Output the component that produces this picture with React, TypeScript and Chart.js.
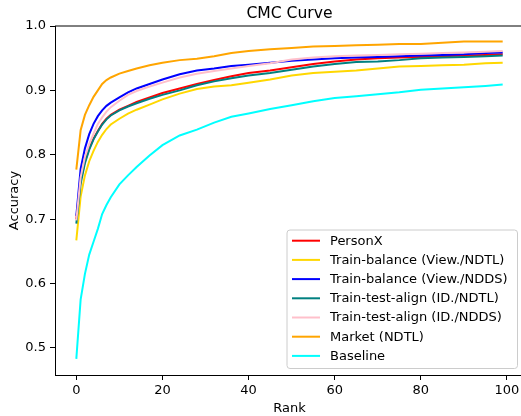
import React, { useEffect, useRef } from "react";
import { Chart, registerables } from "chart.js";

Chart.register(...registerables);

// ---- data ----
const ranks = [0, 1, 2, 3, 4, 5, 6, 7, 8, 10, 12, 14, 17, 20, 24, 28, 32, 36, 40, 45, 50, 55, 60, 65, 70, 75, 80, 85, 90, 95, 99];

const personX = [0.700, 0.760, 0.790, 0.810, 0.825, 0.837, 0.848, 0.856, 0.862, 0.870, 0.876, 0.882, 0.889, 0.896, 0.903, 0.910, 0.916, 0.922, 0.927, 0.931, 0.936, 0.941, 0.945, 0.948, 0.950, 0.951, 0.952, 0.953, 0.954, 0.955, 0.956];
const balanceNDTL = [0.667, 0.735, 0.768, 0.790, 0.806, 0.820, 0.831, 0.840, 0.847, 0.856, 0.864, 0.870, 0.878, 0.886, 0.895, 0.902, 0.906, 0.908, 0.912, 0.917, 0.923, 0.927, 0.929, 0.931, 0.934, 0.937, 0.938, 0.939, 0.940, 0.942, 0.943];
const balanceNDDS = [0.705, 0.778, 0.810, 0.832, 0.848, 0.860, 0.869, 0.876, 0.881, 0.889, 0.897, 0.903, 0.910, 0.917, 0.925, 0.931, 0.934, 0.938, 0.940, 0.943, 0.946, 0.948, 0.950, 0.951, 0.952, 0.953, 0.954, 0.955, 0.956, 0.958, 0.959];
const alignNDTL = [0.693, 0.755, 0.787, 0.808, 0.824, 0.836, 0.847, 0.855, 0.861, 0.869, 0.875, 0.880, 0.887, 0.893, 0.900, 0.908, 0.914, 0.919, 0.923, 0.927, 0.932, 0.937, 0.941, 0.944, 0.945, 0.947, 0.950, 0.951, 0.952, 0.953, 0.954];
const alignNDDS = [0.698, 0.765, 0.797, 0.817, 0.833, 0.848, 0.858, 0.867, 0.874, 0.884, 0.893, 0.899, 0.906, 0.912, 0.920, 0.926, 0.930, 0.934, 0.938, 0.942, 0.948, 0.951, 0.953, 0.954, 0.955, 0.956, 0.957, 0.958, 0.959, 0.960, 0.961];
const marketNDTL = [0.777, 0.838, 0.862, 0.877, 0.890, 0.900, 0.910, 0.916, 0.920, 0.926, 0.930, 0.934, 0.939, 0.943, 0.947, 0.949, 0.953, 0.958, 0.961, 0.964, 0.966, 0.968, 0.969, 0.970, 0.971, 0.972, 0.972, 0.974, 0.976, 0.976, 0.976];
const baseline = [0.483, 0.575, 0.615, 0.645, 0.665, 0.685, 0.708, 0.722, 0.734, 0.754, 0.768, 0.781, 0.799, 0.815, 0.830, 0.839, 0.850, 0.859, 0.864, 0.871, 0.877, 0.883, 0.888, 0.891, 0.894, 0.897, 0.901, 0.903, 0.905, 0.907, 0.909];

const seriesLabels = [
  "PersonX",
  "Train-balance (View./NDTL)",
  "Train-balance (View./NDDS)",
  "Train-test-align (ID./NDTL)",
  "Train-test-align (ID./NDDS)",
  "Market (NDTL)",
  "Baseline",
];
const seriesValues = [personX, balanceNDTL, balanceNDDS, alignNDTL, alignNDDS, marketNDTL, baseline];

const xTickValues = [0, 20, 40, 60, 80, 100];
const yTickValues = [0.5, 0.6, 0.7, 0.8, 0.9, 1.0];

const titleText = "CMC Curve";
const xLabel = "Rank";
const yLabel = "Accuracy";

// ---- styles ----
const colors = ["#ff0000", "#ffd700", "#0000ff", "#008080", "#ffc0cb", "#ffa500", "#00ffff"];
const FONT = '"DejaVu Sans", sans-serif';
const CANVAS_W = 540;
const CANVAS_H = 416;

const decorPlugin = {
  id: "decor",
  afterDraw(chart: any) {
    const ctx = chart.ctx as CanvasRenderingContext2D;
    const a = chart.chartArea;
    ctx.save();
    // top spine
    ctx.strokeStyle = "#000";
    ctx.lineWidth = 1;
    ctx.beginPath();
    ctx.moveTo(a.left, a.top);
    ctx.lineTo(a.right, a.top);
    ctx.stroke();

    const cx = (a.left + a.right) / 2;
    ctx.fillStyle = "#000";
    ctx.textAlign = "center";
    ctx.textBaseline = "alphabetic";
    ctx.font = `15.6px ${FONT}`;
    ctx.fillText(titleText, cx, 18);
    ctx.font = `13px ${FONT}`;
    ctx.fillText(xLabel, cx, 412);
    ctx.save();
    ctx.translate(18, (a.top + a.bottom) / 2);
    ctx.rotate(-Math.PI / 2);
    ctx.fillText(yLabel, 0, 0);
    ctx.restore();

    // legend
    const x0 = 287, x1 = 517.5, y0 = 230, y1 = 368.5, r = 3;
    ctx.beginPath();
    ctx.moveTo(x0 + r, y0);
    ctx.lineTo(x1 - r, y0);
    ctx.quadraticCurveTo(x1, y0, x1, y0 + r);
    ctx.lineTo(x1, y1 - r);
    ctx.quadraticCurveTo(x1, y1, x1 - r, y1);
    ctx.lineTo(x0 + r, y1);
    ctx.quadraticCurveTo(x0, y1, x0, y1 - r);
    ctx.lineTo(x0, y0 + r);
    ctx.quadraticCurveTo(x0, y0, x0 + r, y0);
    ctx.closePath();
    ctx.fillStyle = "rgba(255,255,255,0.8)";
    ctx.fill();
    ctx.strokeStyle = "rgb(204,204,204)";
    ctx.lineWidth = 1;
    ctx.stroke();

    ctx.textAlign = "left";
    ctx.textBaseline = "middle";
    ctx.font = `13px ${FONT}`;
    chart.data.datasets.forEach((ds: any, i: number) => {
      const y = 240.7 + i * 19.2;
      ctx.strokeStyle = ds.borderColor;
      ctx.lineWidth = 2;
      ctx.beginPath();
      ctx.moveTo(292, y);
      ctx.lineTo(320, y);
      ctx.stroke();
      ctx.fillStyle = "#000";
      ctx.fillText(ds.label, 330, y + 0.5);
    });
    ctx.restore();
  },
};

export default function App() {
  const ref = useRef<HTMLCanvasElement>(null);

  useEffect(() => {
    if (!ref.current) return;
    const datasets = seriesValues.map((vals, i) => ({
      label: seriesLabels[i],
      data: ranks.map((r, j) => ({ x: r, y: vals[j] })),
      borderColor: colors[i],
      backgroundColor: colors[i],
      borderWidth: 2,
      pointRadius: 0,
      tension: 0,
      fill: false,
      order: -i,
    }));
    const chart = new Chart(ref.current, {
      type: "line",
      data: { datasets },
      options: {
        animation: false,
        responsive: false,
        devicePixelRatio: 1,
        layout: { padding: { top: 26, left: 0, right: CANVAS_W - 524, bottom: 0 } },
        plugins: {
          legend: { display: false },
          title: { display: false },
          tooltip: { enabled: false },
        },
        scales: {
          x: {
            type: "linear",
            min: -4.95,
            max: 103.95,
            afterBuildTicks: (s: any) => {
              s.ticks = xTickValues.map((v) => ({ value: v }));
            },
            afterFit: (s: any) => {
              s.height = CANVAS_H - 375;
            },
            ticks: {
              autoSkip: false,
              maxRotation: 0,
              padding: 3,
              color: "#000",
              font: { family: FONT, size: 13 },
              callback: (v: any) => String(v),
            },
            grid: { drawOnChartArea: false, tickLength: 5, color: "#000", tickColor: "#000" },
            border: { display: true, color: "#000", width: 1 },
          },
          y: {
            type: "linear",
            min: 0.458,
            max: 1.0,
            afterBuildTicks: (s: any) => {
              s.ticks = yTickValues.map((v) => ({ value: v }));
            },
            afterFit: (s: any) => {
              s.width = 55;
            },
            ticks: {
              autoSkip: false,
              padding: 4,
              color: "#000",
              font: { family: FONT, size: 13 },
              callback: (v: any) => Number(v).toFixed(1),
            },
            grid: { drawOnChartArea: false, tickLength: 5, color: "#000", tickColor: "#000" },
            border: { display: true, color: "#000", width: 1 },
          },
        },
      },
      plugins: [decorPlugin],
    });
    return () => chart.destroy();
  }, []);

  return (
    <div
      style={{
        position: "fixed",
        left: 0,
        top: 0,
        width: 521,
        height: 416,
        overflow: "hidden",
        background: "#fff",
      }}
    >
      <canvas ref={ref} width={CANVAS_W} height={CANVAS_H} style={{ display: "block", width: CANVAS_W, height: CANVAS_H }} />
    </div>
  );
}
